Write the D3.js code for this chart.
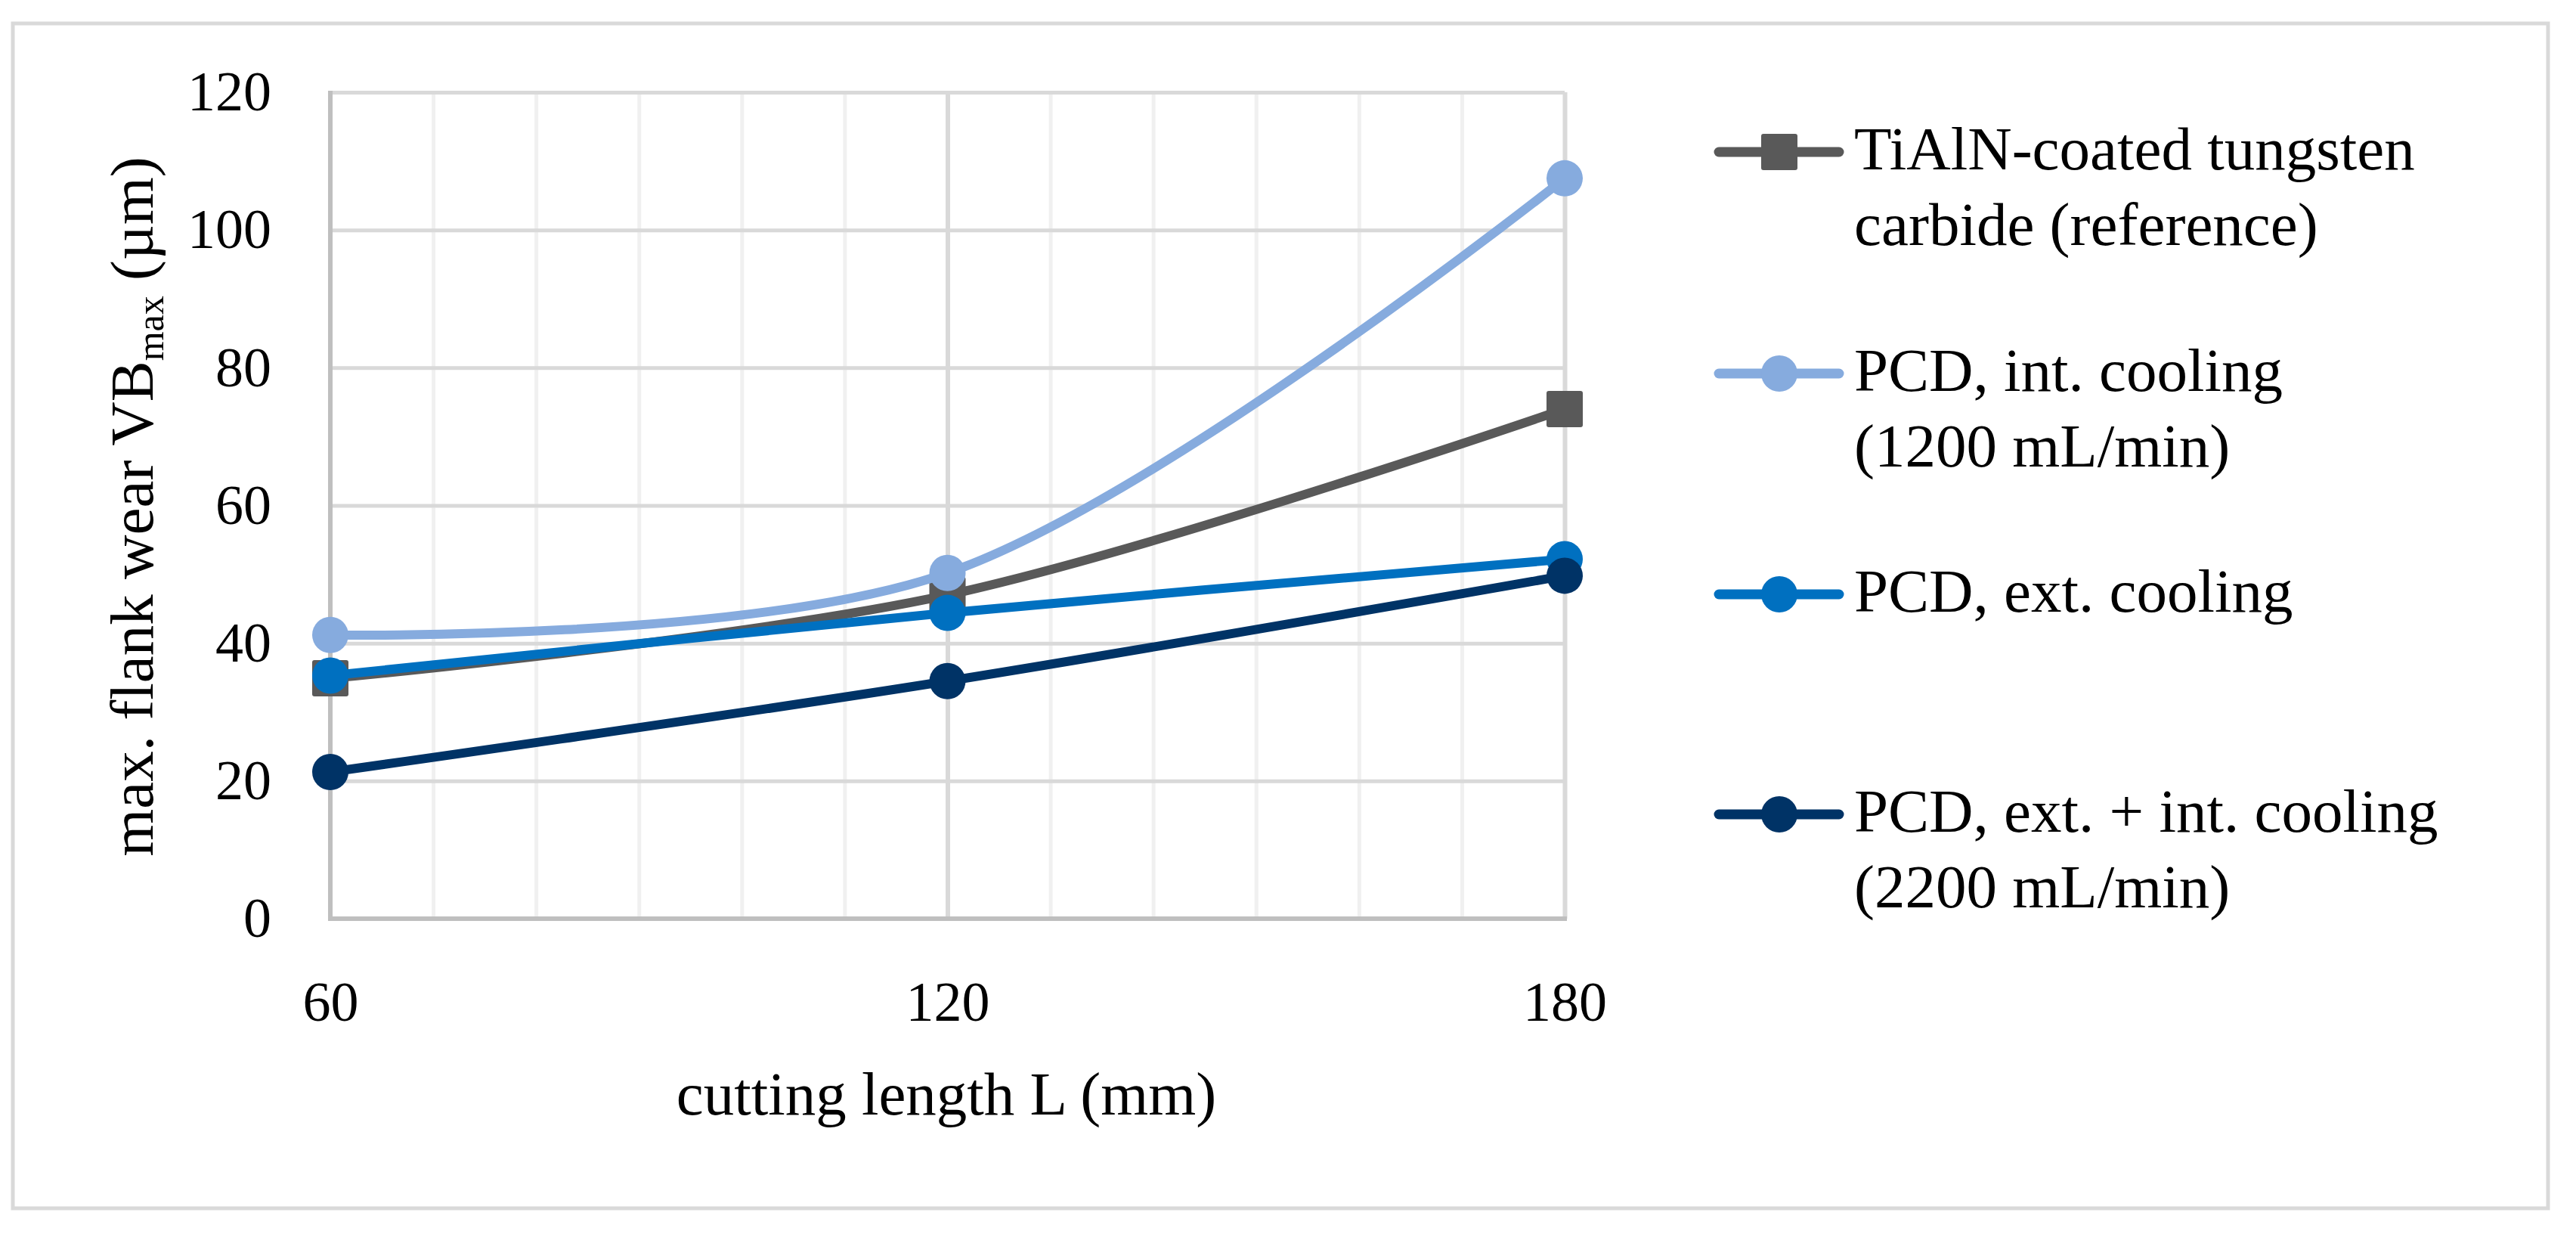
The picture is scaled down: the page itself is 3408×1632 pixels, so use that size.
<!DOCTYPE html>
<html>
<head>
<meta charset="utf-8">
<script src="https://cdn.jsdelivr.net/npm/d3@7/dist/d3.min.js"></script>
<style>
  body { margin: 0; padding: 0; background: #fff; }
  svg text { font-family: "Liberation Serif", "Times New Roman", serif; fill: #000; }
</style>
</head>
<body>
<svg id="chart" width="3408" height="1632"></svg>
<script>
// data
const lengths = [60, 120, 180];
const seriesNames = ["TiAlN-coated tungsten carbide (reference)", "PCD, int. cooling (1200 mL/min)",
                     "PCD, ext. cooling", "PCD, ext. + int. cooling (2200 mL/min)"];
const legendLines = [["TiAlN-coated tungsten", "carbide (reference)"],
                     ["PCD, int. cooling", "(1200 mL/min)"],
                     ["PCD, ext. cooling"],
                     ["PCD, ext. + int. cooling", "(2200 mL/min)"]];
const tialn   = [34.9, 47.0, 74.0];
const pcdInt  = [41.2, 50.2, 107.5];
const pcdExt  = [35.3, 44.4, 52.2];
const pcdBoth = [21.3, 34.5, 49.8];
const yTicks = [0, 20, 40, 60, 80, 100, 120];
const xTicks = [60, 120, 180];
const xMinor = [70, 80, 90, 100, 110, 130, 140, 150, 160, 170];

const colors = ["#595959", "#86abde", "#0070c0", "#003366"];
const markers = ["square", "circle", "circle", "circle"];
const values = [tialn, pcdInt, pcdExt, pcdBoth];

const svg = d3.select("#chart");
svg.append("rect").attr("width", 3408).attr("height", 1632).attr("fill", "#fff");
// outer chart border
svg.append("rect").attr("x", 17).attr("y", 31).attr("width", 3354).attr("height", 1567)
  .attr("fill", "none").attr("stroke", "#d9d9d9").attr("stroke-width", 5);

const x = d3.scaleLinear().domain([60, 180]).range([437, 2070]);
const y = d3.scaleLinear().domain([0, 120]).range([1215, 122]);
const plotW = x(180) - x(60), plotH = y(0) - y(120);

// minor vertical gridlines
svg.append("g").attr("transform", `translate(0,${y(0)})`)
  .call(d3.axisBottom(x).tickValues(xMinor).tickSize(-plotH).tickFormat(""))
  .call(g => g.select(".domain").remove())
  .call(g => g.selectAll("line").attr("stroke", "#f0f0f0").attr("stroke-width", 5));
// major vertical gridlines
svg.append("g").attr("transform", `translate(0,${y(0)})`)
  .call(d3.axisBottom(x).tickValues([120, 180]).tickSize(-plotH).tickFormat(""))
  .call(g => g.select(".domain").remove())
  .call(g => g.selectAll("line").attr("stroke", "#d9d9d9").attr("stroke-width", 6));
// horizontal gridlines
svg.append("g").attr("transform", `translate(${x(60)},0)`)
  .call(d3.axisLeft(y).tickValues(yTicks.slice(1)).tickSize(-plotW).tickFormat(""))
  .call(g => g.select(".domain").remove())
  .call(g => g.selectAll("line").attr("stroke", "#d9d9d9").attr("stroke-width", 5));

// axis lines
svg.append("line").attr("x1", x(60)).attr("x2", x(60)).attr("y1", y(120) - 2).attr("y2", y(0) + 3)
  .attr("stroke", "#bfbfbf").attr("stroke-width", 6);
svg.append("line").attr("x1", x(60) - 3).attr("x2", x(180) + 3).attr("y1", y(0)).attr("y2", y(0))
  .attr("stroke", "#bfbfbf").attr("stroke-width", 6);

// tick labels
svg.append("g").attr("transform", `translate(${x(60)},0)`)
  .call(d3.axisLeft(y).tickValues(yTicks).tickSize(0).tickPadding(78))
  .call(g => g.select(".domain").remove())
  .call(g => g.selectAll("text").attr("font-size", 74).attr("fill", "#000"));
svg.append("g").attr("transform", `translate(0,${y(0)})`)
  .call(d3.axisBottom(x).tickValues(xTicks).tickSize(0).tickPadding(82))
  .call(g => g.select(".domain").remove())
  .call(g => g.selectAll("text").attr("font-size", 74).attr("fill", "#000"));

// axis titles
svg.append("text").attr("x", 1252).attr("y", 1474).attr("text-anchor", "middle")
  .attr("font-size", 81).text("cutting length L (mm)");
const yt = svg.append("text").attr("transform", "translate(202,670) rotate(-90)")
  .attr("text-anchor", "middle").attr("font-size", 81);
yt.append("tspan").text("max. flank wear VB");
yt.append("tspan").attr("font-size", 50).attr("dy", 14).text("max");
yt.append("tspan").attr("dy", -14).text(" (\u00b5m)");

// series
const line = d3.line().x((d, i) => x(lengths[i])).y(d => y(d)).curve(d3.curveCatmullRom.alpha(0.5));

function drawMarker(g, type, cx, cy, color) {
  if (type === "square") {
    g.append("rect").attr("x", cx - 24).attr("y", cy - 24).attr("width", 48).attr("height", 48)
      .attr("rx", 3).attr("fill", color);
  } else {
    g.append("circle").attr("cx", cx).attr("cy", cy).attr("r", 24).attr("fill", color);
  }
}

values.forEach((vals, s) => {
  const g = svg.append("g").attr("class", "series");
  g.append("path").attr("d", line(vals)).attr("fill", "none")
    .attr("stroke", colors[s]).attr("stroke-width", 12).attr("stroke-linecap", "round");
  vals.forEach((v, i) => drawMarker(g, markers[s], x(lengths[i]), y(v), colors[s]));
});

// legend
const legendY = [201, 494, 786, 1077];
legendLines.forEach((lines, s) => {
  const g = svg.append("g").attr("transform", `translate(0,${legendY[s]})`);
  g.append("line").attr("x1", 2274).attr("x2", 2433).attr("y1", 0).attr("y2", 0)
    .attr("stroke", colors[s]).attr("stroke-width", 13).attr("stroke-linecap", "round");
  drawMarker(g, markers[s], 2354, 0, colors[s]);
  const t = g.append("text").attr("x", 2453).attr("y", 23).attr("font-size", 81);
  lines.forEach((l, k) => t.append("tspan").attr("x", 2453).attr("dy", k === 0 ? 0 : 100).text(l));
});
</script>
</body>
</html>
